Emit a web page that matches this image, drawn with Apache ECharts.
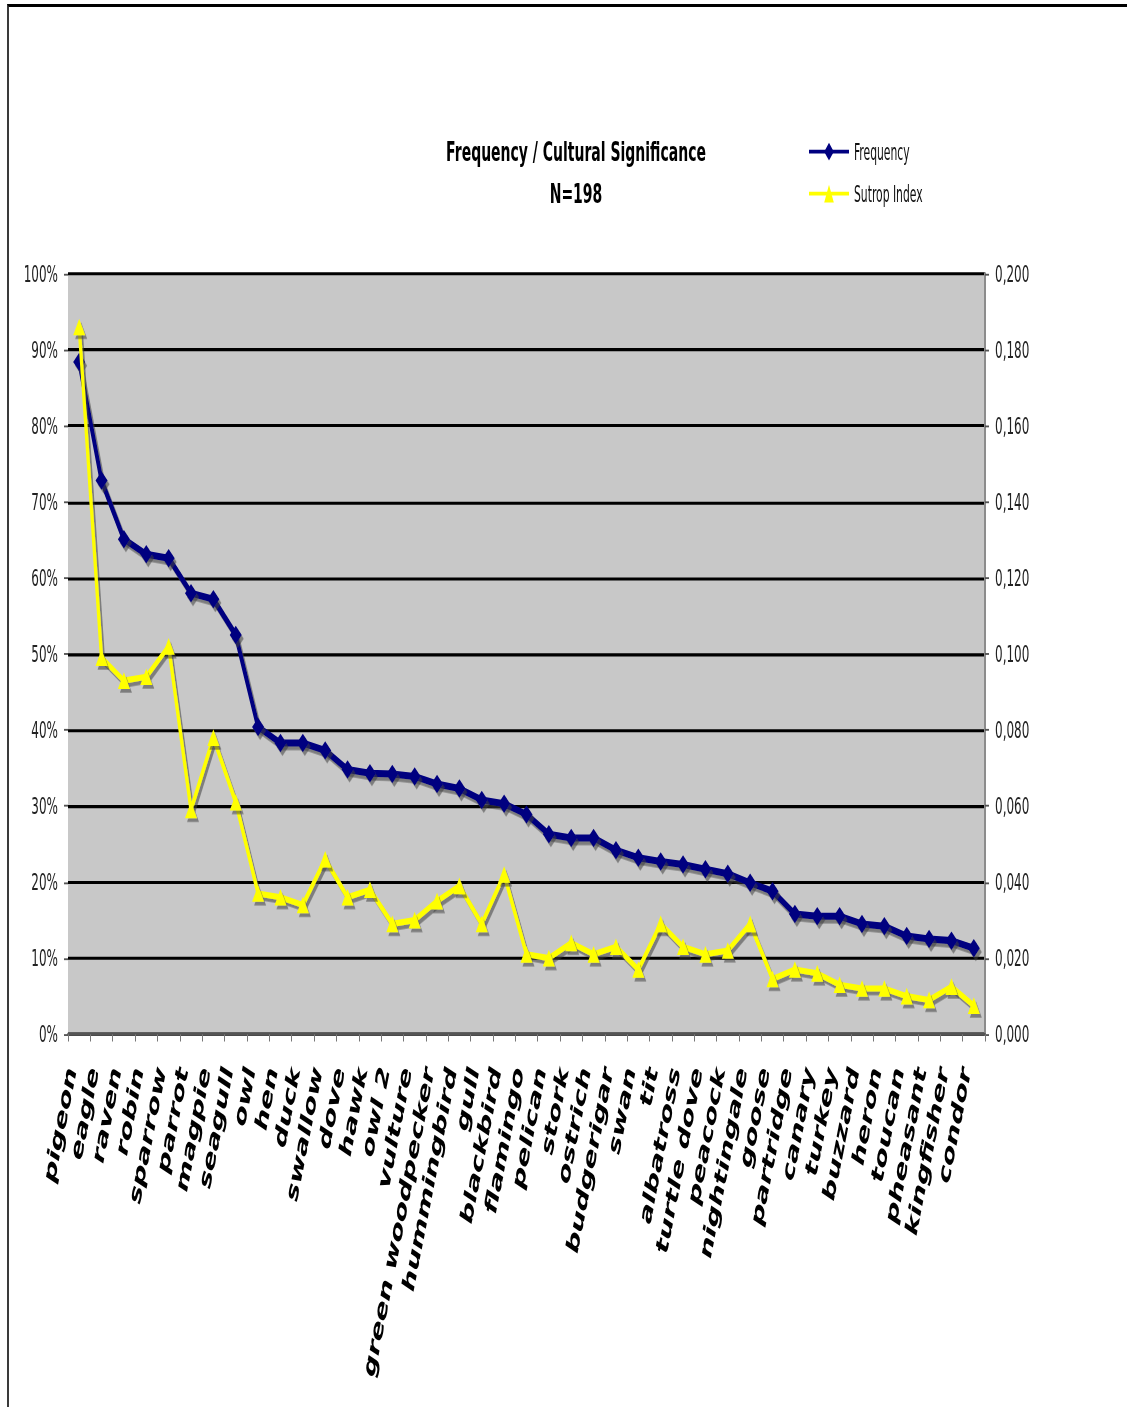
<!DOCTYPE html>
<html>
<head>
<meta charset="utf-8">
<script src="https://cdn.jsdelivr.net/npm/echarts@6/dist/echarts.min.js"></script>
<style>
  html, body { margin: 0; padding: 0; background: #fff; overflow: hidden; width: 1127px; height: 1407px; }
  /* chart is laid out at a compact height and stretched vertically */
  #chart { position: absolute; left: 0; top: 0; width: 1127px; height: 760.5px; transform: scaleY(1.85); transform-origin: 0 0; }
  #frame { position: absolute; left: 7px; top: 4px; width: 1200px; height: 1500px;
           border-top: 3px solid #000; border-left: 2px solid #3a3a3a; pointer-events: none; }
</style>
</head>
<body>
<div id="chart"></div>
<div id="frame"></div>
<script>
// Bird names, ordered by how often they were listed
const birds = [
  'pigeon', 'eagle', 'raven', 'robin', 'sparrow', 'parrot', 'magpie', 'seagull', 'owl', 'hen',
  'duck', 'swallow', 'dove', 'hawk', 'owl 2', 'vulture', 'green woodpecker', 'hummingbird', 'gull', 'blackbird',
  'flamingo', 'pelican', 'stork', 'ostrich', 'budgerigar', 'swan', 'tit', 'albatross', 'turtle dove', 'peacock',
  'nightingale', 'goose', 'partridge', 'canary', 'turkey', 'buzzard', 'heron', 'toucan', 'pheasant', 'kingfisher',
  'condor'
];

// Share of respondents naming each bird (%)
const frequency = [
  88.4, 72.8, 65.1, 63.1, 62.6, 58.0, 57.2, 52.5, 40.4, 38.3,
  38.3, 37.3, 34.8, 34.3, 34.2, 33.9, 32.9, 32.3, 30.8, 30.3,
  28.9, 26.3, 25.8, 25.8, 24.2, 23.2, 22.7, 22.3, 21.7, 21.1,
  19.9, 18.8, 15.8, 15.5, 15.5, 14.5, 14.2, 12.9, 12.5, 12.3,
  11.3
];

// Sutrop cognitive salience index
const sutropIndex = [
  0.186, 0.099, 0.093, 0.094, 0.102, 0.059, 0.078, 0.061, 0.037, 0.036,
  0.034, 0.046, 0.036, 0.038, 0.029, 0.030, 0.035, 0.039, 0.029, 0.042,
  0.021, 0.020, 0.024, 0.021, 0.023, 0.017, 0.029, 0.023, 0.021, 0.022,
  0.029, 0.0145, 0.017, 0.016, 0.013, 0.012, 0.012, 0.010, 0.009, 0.0125,
  0.0075
];

const titleLines = ['Frequency / Cultural Significance', 'N=198'];
const seriesNames = ['Frequency', 'Sutrop Index'];

const narrowFont = "'DejaVu Sans Condensed', 'Liberation Sans Narrow', 'DejaVu Sans', sans-serif";
const dropShadow = { shadowColor: 'rgba(60,60,60,0.55)', shadowOffsetX: 2, shadowOffsetY: 2, shadowBlur: 0 };

const chart = echarts.init(document.getElementById('chart'), null, { renderer: 'svg' });

chart.setOption({
  animation: false,
  backgroundColor: 'transparent',
  title: {
    text: titleLines.join('\n'),
    left: 571,
    top: 66,
    textAlign: 'center',
    textStyle: { fontFamily: "'DejaVu Sans', sans-serif", fontWeight: 'bold', fontSize: 14, lineHeight: 22.7, color: '#000' }
  },
  legend: {
    orient: 'vertical',
    left: 803,
    top: 71,
    itemWidth: 40,
    itemHeight: 12,
    itemGap: 10.7,
    data: seriesNames,
    textStyle: { fontFamily: narrowFont, fontSize: 12, color: '#111' }
  },
  grid: {
    left: 68,
    right: 142,
    top: 148,
    bottom: 202,
    show: true,
    backgroundColor: '#c8c8c8',
    borderWidth: 0
  },
  xAxis: {
    type: 'category',
    data: birds,
    boundaryGap: true,
    axisLine: { show: true, lineStyle: { color: '#555', width: 1.5 } },
    axisTick: { show: true, interval: 0, length: 4, lineStyle: { color: '#777', width: 1 } },
    axisLabel: {
      interval: 0,
      rotate: 70,
      margin: 21,
      verticalAlign: 'bottom',
      fontFamily: "'DejaVu Sans', Verdana, sans-serif",
      fontWeight: 'bold',
      fontSize: 17,
      color: '#000'
    },
    splitLine: { show: false }
  },
  yAxis: [
    {
      type: 'value',
      position: 'left',
      min: 0,
      max: 100,
      interval: 10,
      axisLine: { show: false },
      axisTick: { show: true, length: 4, lineStyle: { color: '#555' } },
      axisLabel: { formatter: '{value}%', fontFamily: "'DejaVu Sans', sans-serif", fontSize: 12, color: '#222', margin: 10 },
      splitLine: { show: true, lineStyle: { color: '#000', width: 1.7 } }
    },
    {
      type: 'value',
      position: 'right',
      min: 0,
      max: 0.2,
      interval: 0.02,
      axisLine: { show: true, lineStyle: { color: '#8c8c8c', width: 2 } },
      axisTick: { show: true, length: 4, lineStyle: { color: '#555' } },
      axisLabel: {
        formatter: v => v.toFixed(3).replace('.', ','),
        fontFamily: "'DejaVu Sans', sans-serif", fontSize: 12, color: '#222', margin: 10
      },
      splitLine: { show: false }
    }
  ],
  series: [
    {
      name: seriesNames[0],
      type: 'line',
      yAxisIndex: 0,
      data: frequency,
      symbol: 'diamond',
      symbolSize: [12, 10],
      lineStyle: Object.assign({ color: '#000080', width: 3.8 }, dropShadow),
      itemStyle: Object.assign({ color: '#000080' }, dropShadow),
      z: 3
    },
    {
      name: seriesNames[1],
      type: 'line',
      yAxisIndex: 1,
      data: sutropIndex,
      symbol: 'triangle',
      symbolSize: [12, 9],
      lineStyle: Object.assign({ color: '#ffff00', width: 3.3 }, dropShadow),
      itemStyle: Object.assign({ color: '#ffff00' }, dropShadow),
      z: 4
    }
  ]
});
</script>
</body>
</html>
